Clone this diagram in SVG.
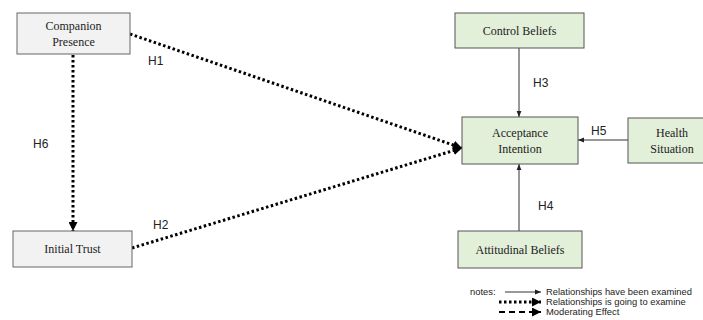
<svg xmlns="http://www.w3.org/2000/svg" width="703" height="320" viewBox="0 0 703 320">
<style>
.grey{fill:#f2f2f2;stroke:#666;stroke-width:1}
.green{fill:#e2efd9;stroke:#555;stroke-width:1}
.nt{font-family:"Liberation Serif",serif;font-size:12px;fill:#222;text-anchor:middle}
.lb{font-family:"Liberation Sans",Arial,sans-serif;font-size:12px;fill:#222}
.lg{font-family:"Liberation Sans",Arial,sans-serif;font-size:9.4px;fill:#222}
.solid{stroke:#333;stroke-width:1;fill:none}
.dot{stroke:#000;stroke-width:3;stroke-dasharray:2.5 2.5;fill:none}
.dash{stroke:#000;stroke-width:2;stroke-dasharray:6 4;fill:none}
</style>
<defs>
<marker id="a" viewBox="0 0 10 10" refX="10" refY="5" markerWidth="6" markerHeight="6" orient="auto" markerUnits="userSpaceOnUse"><path d="M0,1 L10,5 L0,9 z" fill="#222"/></marker>
<marker id="b" viewBox="0 0 10 10" refX="10" refY="5" markerWidth="9" markerHeight="9" orient="auto" markerUnits="userSpaceOnUse"><path d="M0,0 L10,5 L0,10 z" fill="#000"/></marker>
</defs>
<g id="connectors">
<line class="dot" x1="130" y1="34" x2="462" y2="148" marker-end="url(#b)"/>
<line class="dot" x1="132" y1="248" x2="462" y2="148" marker-end="url(#b)"/>
<line class="dot" x1="73" y1="55" x2="73" y2="231" marker-end="url(#b)"/>
<line class="solid" x1="519" y1="48" x2="519" y2="117" marker-end="url(#a)"/>
<line class="solid" x1="519" y1="231" x2="519" y2="164" marker-end="url(#a)"/>
<line class="solid" x1="628" y1="140" x2="578" y2="140" marker-end="url(#a)"/>
<text class="lb" x="148" y="65">H1</text>
<text class="lb" x="153" y="229">H2</text>
<text class="lb" x="533" y="87">H3</text>
<text class="lb" x="538" y="210">H4</text>
<text class="lb" x="591" y="135">H5</text>
<text class="lb" x="33" y="148">H6</text>
</g>
<g id="companion">
<rect class="grey" x="17" y="13" width="113" height="41"/>
<text class="nt" x="73.5" y="30">Companion</text>
<text class="nt" x="73.5" y="46">Presence</text>
</g>
<g id="trust">
<rect class="grey" x="13" y="231" width="119" height="36"/>
<text class="nt" x="72.5" y="253">Initial Trust</text>
</g>
<g id="control">
<rect class="green" x="455" y="13" width="129" height="35"/>
<text class="nt" x="519.5" y="35">Control Beliefs</text>
</g>
<g id="acceptance">
<rect class="green" x="462" y="117" width="116" height="47"/>
<text class="nt" x="520" y="137">Acceptance</text>
<text class="nt" x="520" y="153">Intention</text>
</g>
<g id="health">
<rect class="green" x="628" y="118" width="80" height="45"/>
<text class="nt" x="672" y="137">Health</text>
<text class="nt" x="672" y="153">Situation</text>
</g>
<g id="attitudinal">
<rect class="green" x="458" y="231" width="124" height="37"/>
<text class="nt" x="520" y="254">Attitudinal Beliefs</text>
</g>
<g id="legend">
<text class="lg" x="470" y="295">notes:</text>
<line class="solid" x1="505" y1="292" x2="541" y2="292" marker-end="url(#a)"/>
<text class="lg" x="546" y="295">Relationships have been examined</text>
<line class="dot" x1="499" y1="302" x2="541" y2="302" marker-end="url(#b)"/>
<text class="lg" x="546" y="305">Relationships is going to examine</text>
<line class="dash" x1="499" y1="312" x2="541" y2="312" marker-end="url(#b)"/>
<text class="lg" x="546" y="315">Moderating Effect</text>
</g>
</svg>
